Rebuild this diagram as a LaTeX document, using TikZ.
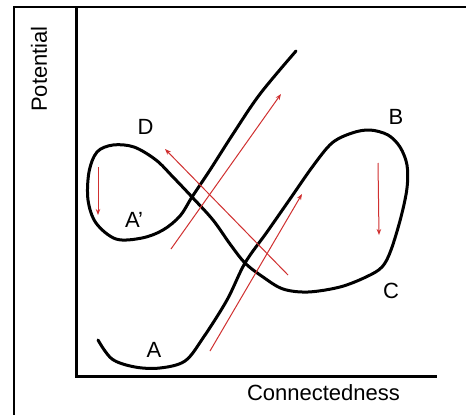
\documentclass[tikz,border=0pt]{standalone}
\usepackage{fontspec}
\setmainfont{Liberation Sans}
\usetikzlibrary{arrows.meta}
\definecolor{arrowred}{RGB}{208,48,48}
\tikzset{
  frameline/.style={line width=2.5pt, black},
  axisline/.style={line width=3pt, black},
  curveline/.style={line width=3pt, black, line cap=round, line join=round},
  redarrow/.style={arrowred, line width=1pt, -{Stealth[length=6pt,width=4.5pt]}},
  lbl/.style={inner sep=0pt, font=\fontsize{22}{26}\selectfont},
}
\begin{document}
\begin{tikzpicture}[x=1pt,y=-1pt]
\useasboundingbox (0,0) rectangle (466,415);
\fill[white] (0,0) rectangle (466,415);
% frame
\draw[frameline] (14,416) -- (14,7) -- (467,7);
% axes
\coordinate (ytop) at (76,7);
\coordinate (orig) at (76,376);
\coordinate (xend) at (437,376);
\draw[axisline] (ytop) -- (orig) -- (xend);
% axis labels
\node[lbl, rotate=90] (pot) at (39,69) {Potential};
\node[lbl] (con) at (323.5,393) {Connectedness};
% point labels
\node[lbl] (D) at (145.5,127) {D};
\node[lbl] (B) at (396,117) {B};
\node[lbl] (Ap) at (134,220) {A’};
\node[lbl] (C) at (391,291) {C};
\node[lbl] (A) at (154,350) {A};
% main curve
\draw[curveline] plot[smooth, tension=0.55] coordinates {
 (98,340) (112,359) (135,367) (160,368) (185,361) (203,338) (227,300) (245,263)
 (267,232) (290,199) (313,166) (332,143) (352,133) (370,130) (388,135) (400,147)
 (407,165) (407,188) (401,217) (391,250) (382,267) (366,277) (340,287) (308,292)
 (283,289) (263,277) (245,263) (230,244) (213,220) (192,197) (173,177) (156,160)
 (134,147) (113,145) (97,152) (89,172) (88,200) (96,223) (116,239) (142,238)
 (163,230) (180,216) (192,197) (210,170) (233,134) (260,94) (296,51)
};
% red arrows
\coordinate (r1s) at (171,249); \coordinate (r1e) at (281,94);
\coordinate (r2s) at (210,351); \coordinate (r2e) at (302,194);
\coordinate (r3s) at (288,275); \coordinate (r3e) at (165,149);
\coordinate (r4s) at (98,167);  \coordinate (r4e) at (98,215);
\coordinate (r5s) at (378,163); \coordinate (r5e) at (379,235);
\draw[redarrow] (r1s) -- (r1e);
\draw[redarrow] (r2s) -- (r2e);
\draw[redarrow] (r3s) -- (r3e);
\draw[redarrow] (r4s) -- (r4e);
\draw[redarrow] (r5s) -- (r5e);
\end{tikzpicture}
\end{document}
